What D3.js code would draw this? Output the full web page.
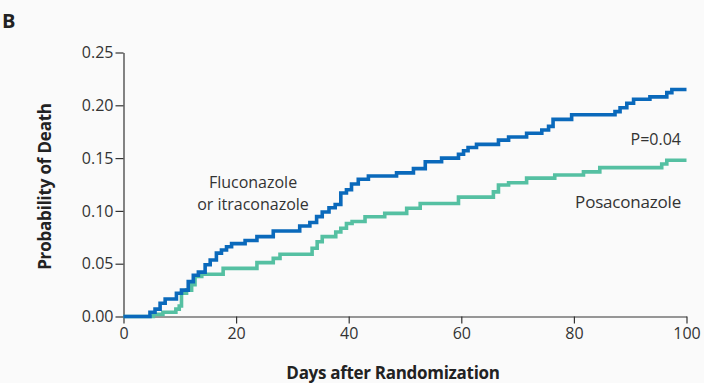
<!DOCTYPE html>
<html><head><meta charset="utf-8">
<script src="https://cdn.jsdelivr.net/npm/d3@7"></script>
<style>
html,body{margin:0;padding:0;background:#fafafa;}
svg{display:block;font-family:"Open Sans","Noto Sans",sans-serif;}
</style></head>
<body>
<svg id="chart" width="704" height="383"></svg>
<script>
const xTicks = [0, 20, 40, 60, 80, 100];
const yTicks = [0, 0.05, 0.10, 0.15, 0.20, 0.25];
const yTickLabels = ["0.00", "0.05", "0.10", "0.15", "0.20", "0.25"];
const seriesNames = ["Fluconazole or itraconazole", "Posaconazole"];
// Step-curve points: [day, probability]
const flucDays = [0,4.7,5.6,6.5,7.4,9.4,10.3,11.5,12.4,13.3,14.5,15.4,16.5,17.4,18.3,19.2,21.6,23.7,26.6,31.3,33.1,34.3,35.3,36.5,37.6,38.6,39.6,40.5,41.7,43.5,48.5,51.5,53.6,56.5,59.5,60.4,61.2,62.7,66.6,68.4,71.6,74.3,75.5,76.3,79.6,87.3,88.2,89.4,90.6,93.5,96.5,97.4,100];
const flucProb = [0,0.004,0.007,0.0125,0.0166,0.022,0.025,0.033,0.039,0.042,0.049,0.0535,0.060,0.063,0.066,0.069,0.072,0.0756,0.081,0.0857,0.089,0.0946,0.099,0.103,0.106,0.117,0.120,0.1255,0.130,0.133,0.136,0.140,0.1466,0.150,0.1536,0.157,0.160,0.163,0.167,0.170,0.1735,0.1766,0.180,0.1867,0.191,0.194,0.1977,0.202,0.2057,0.208,0.212,0.215,0.215];
const posaDays = [0,5.3,7.0,9.3,9.9,10.3,11.2,12.1,12.7,13.9,17.7,23.7,26.6,27.8,33.5,34.4,35.3,37.7,38.6,39.6,40.6,42.9,46.4,50.3,52.7,59.5,65.7,66.6,68.4,71.6,76.6,81.7,84.6,95.6,96.5,100];
const posaProb = [0,0.002,0.004,0.007,0.010,0.022,0.025,0.030,0.038,0.040,0.0456,0.051,0.055,0.059,0.0646,0.0708,0.0756,0.080,0.0835,0.088,0.090,0.0945,0.0977,0.1025,0.107,0.113,0.118,0.1245,0.1267,0.131,0.134,0.137,0.141,0.1444,0.148,0.148];

const svg = d3.select("#chart");
const ink = "#333";
const x = d3.scaleLinear().domain([0, 100]).range([123.5, 686.5]);
const y = d3.scaleLinear().domain([0, 0.25]).range([316.5, 52.5]);

// Axes
const xAxis = svg.append("g").attr("transform", `translate(0,${y(0)})`)
  .call(d3.axisBottom(x).tickValues(xTicks).tickSize(7).tickSizeOuter(0).tickPadding(4));
const yAxis = svg.append("g").attr("transform", `translate(${x(0)},0)`)
  .call(d3.axisLeft(y).tickValues(yTicks).tickFormat((d,i)=>yTickLabels[i]).tickSize(8).tickSizeOuter(0).tickPadding(2));
[xAxis, yAxis].forEach(g => {
  g.select(".domain").attr("stroke", ink).attr("stroke-width", 1.2);
  g.selectAll(".tick line").attr("stroke", ink).attr("stroke-width", 1.2);
  g.selectAll(".tick text").attr("fill", ink).style("font-size", "16px")
   .style("font-family", '"Open Sans","Noto Sans",sans-serif');
});

// Lines
const line = d3.line().x(d => x(d[0])).y(d => y(d[1])).curve(d3.curveStepAfter);
const flucData = flucDays.map((d,i)=>[d, flucProb[i]]);
const posaData = posaDays.map((d,i)=>[d, posaProb[i]]);
svg.append("path").datum(posaData).attr("d", line)
  .attr("fill","none").attr("stroke","#55c0a2").attr("stroke-width",3.6);
svg.append("path").datum(flucData).attr("d", line)
  .attr("fill","none").attr("stroke","#0a69bb").attr("stroke-width",3.6);

// Axis titles
svg.append("text").attr("x", 393).attr("y", 379).attr("text-anchor","middle")
  .attr("fill","#222").style("font-size","17px").style("font-weight","700")
  .style("letter-spacing","-0.3px").text("Days after Randomization");
svg.append("text").attr("transform","translate(51,186.5) rotate(-90)").attr("text-anchor","middle")
  .attr("fill","#222").style("font-size","17px").style("font-weight","700")
  .style("letter-spacing","-0.2px").text("Probability of Death");

// Panel letter
svg.append("text").attr("x", 2).attr("y", 28).attr("fill","#222")
  .style("font-size","20px").style("font-weight","700").text("B");

// Annotations
const ann = svg.append("g").attr("fill", ink).style("font-size","16px");
ann.append("text").attr("x",253).attr("y",188).attr("text-anchor","middle").text("Fluconazole");
ann.append("text").attr("x",253).attr("y",210).attr("text-anchor","middle").text("or itraconazole");
ann.append("text").attr("x",681).attr("y",145).attr("text-anchor","end").text("P=0.04");
ann.append("text").attr("x",681).attr("y",208).attr("text-anchor","end")
  .style("font-size","17px").style("letter-spacing","-0.2px").text(seriesNames[1]);
</script>
</body></html>
